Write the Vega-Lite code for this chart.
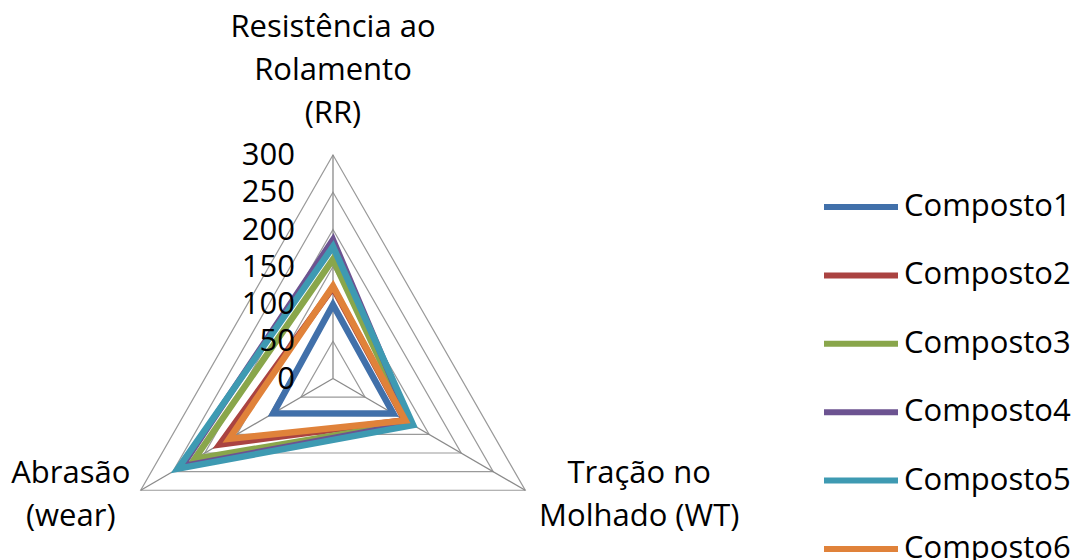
{
  "$schema": "https://vega.github.io/schema/vega-lite/v6.json",
  "width": 1082,
  "height": 560,
  "padding": 0,
  "autosize": {"type": "none"},
  "config": {"view": {"stroke": null}, "text": {"lineBreak": "\n"}},
  "datasets": {
    "series": [
      {"serie": "Composto1", "axis": "RR", "ord": 0, "v": 99},
      {"serie": "Composto1", "axis": "WT", "ord": 1, "v": 94},
      {"serie": "Composto1", "axis": "wear", "ord": 2, "v": 93},
      {"serie": "Composto2", "axis": "RR", "ord": 0, "v": 122},
      {"serie": "Composto2", "axis": "WT", "ord": 1, "v": 112},
      {"serie": "Composto2", "axis": "wear", "ord": 2, "v": 177},
      {"serie": "Composto3", "axis": "RR", "ord": 0, "v": 160},
      {"serie": "Composto3", "axis": "WT", "ord": 1, "v": 119},
      {"serie": "Composto3", "axis": "wear", "ord": 2, "v": 216},
      {"serie": "Composto4", "axis": "RR", "ord": 0, "v": 186},
      {"serie": "Composto4", "axis": "WT", "ord": 1, "v": 121},
      {"serie": "Composto4", "axis": "wear", "ord": 2, "v": 236},
      {"serie": "Composto5", "axis": "RR", "ord": 0, "v": 177},
      {"serie": "Composto5", "axis": "WT", "ord": 1, "v": 125},
      {"serie": "Composto5", "axis": "wear", "ord": 2, "v": 242},
      {"serie": "Composto6", "axis": "RR", "ord": 0, "v": 124},
      {"serie": "Composto6", "axis": "WT", "ord": 1, "v": 113},
      {"serie": "Composto6", "axis": "wear", "ord": 2, "v": 162}
    ],
    "grid": [
      {"v": 50, "axis": ["RR", "WT", "wear"], "ord": [0, 1, 2]},
      {"v": 100, "axis": ["RR", "WT", "wear"], "ord": [0, 1, 2]},
      {"v": 150, "axis": ["RR", "WT", "wear"], "ord": [0, 1, 2]},
      {"v": 200, "axis": ["RR", "WT", "wear"], "ord": [0, 1, 2]},
      {"v": 250, "axis": ["RR", "WT", "wear"], "ord": [0, 1, 2]},
      {"v": 300, "axis": ["RR", "WT", "wear"], "ord": [0, 1, 2]}
    ],
    "spokes": [
      {"axis": "RR", "v": 300},
      {"axis": "WT", "v": 300},
      {"axis": "wear", "v": 300}
    ],
    "ticks": [
      {"axis": "RR", "v": 0, "t": "0"},
      {"axis": "RR", "v": 50, "t": "50"},
      {"axis": "RR", "v": 100, "t": "100"},
      {"axis": "RR", "v": 150, "t": "150"},
      {"axis": "RR", "v": 200, "t": "200"},
      {"axis": "RR", "v": 250, "t": "250"},
      {"axis": "RR", "v": 300, "t": "300"}
    ],
    "titles": [
      {"axis": "RR", "v": 300, "label": "Resistência ao\nRolamento\n(RR)"},
      {"axis": "WT", "v": 300, "label": "Tração no\nMolhado (WT)"},
      {"axis": "wear", "v": 300, "label": "Abrasão\n(wear)"}
    ]
  },
  "layer": [
    {
      "data": {"name": "grid"},
      "transform": [
        {"flatten": ["axis", "ord"]},
        {"calculate": "datum.v * (datum.axis === 'RR' ? 0 : (datum.axis === 'WT' ? 0.866 : -0.866))", "as": "px"},
        {"calculate": "datum.v * (datum.axis === 'RR' ? 1 : -0.5)", "as": "py"}
      ],
      "mark": {"type": "line", "interpolate": "linear-closed", "stroke": "#9a9a9a", "strokeWidth": 1.2},
      "encoding": {
        "x": {"field": "px", "type": "quantitative", "scale": {"domain": [-450, 1012.2], "nice": false, "zero": false}, "axis": null},
        "y": {"field": "py", "type": "quantitative", "scale": {"domain": [-243.6, 508.05], "nice": false, "zero": false}, "axis": null},
        "detail": {"field": "v", "type": "nominal"},
        "order": {"field": "ord", "type": "quantitative"}
      }
    },
    {
      "data": {"name": "spokes"},
      "transform": [
        {"calculate": "datum.v * (datum.axis === 'RR' ? 0 : (datum.axis === 'WT' ? 0.866 : -0.866))", "as": "px"},
        {"calculate": "datum.v * (datum.axis === 'RR' ? 1 : -0.5)", "as": "py"}
      ],
      "mark": {"type": "rule", "stroke": "#8a8a8a", "strokeWidth": 1.3},
      "encoding": {
        "x": {"field": "px", "type": "quantitative", "scale": {"domain": [-450, 1012.2], "nice": false, "zero": false}, "axis": null},
        "y": {"field": "py", "type": "quantitative", "scale": {"domain": [-243.6, 508.05], "nice": false, "zero": false}, "axis": null},
        "x2": {"datum": 0},
        "y2": {"datum": 0}
      }
    },
    {
      "data": {"name": "series"},
      "transform": [
        {"calculate": "datum.v * (datum.axis === 'RR' ? 0 : (datum.axis === 'WT' ? 0.866 : -0.866))", "as": "px"},
        {"calculate": "datum.v * (datum.axis === 'RR' ? 1 : -0.5)", "as": "py"}
      ],
      "mark": {"type": "line", "interpolate": "linear-closed", "strokeWidth": 6.5, "strokeJoin": "miter"},
      "encoding": {
        "x": {"field": "px", "type": "quantitative", "scale": {"domain": [-450, 1012.2], "nice": false, "zero": false}, "axis": null},
        "y": {"field": "py", "type": "quantitative", "scale": {"domain": [-243.6, 508.05], "nice": false, "zero": false}, "axis": null},
        "order": {"field": "ord", "type": "quantitative"},
        "color": {
          "field": "serie",
          "type": "nominal",
          "scale": {
            "domain": ["Composto1", "Composto2", "Composto3", "Composto4", "Composto5", "Composto6"],
            "range": ["#4170AA", "#AA4341", "#89A64B", "#6C5391", "#3E9AB2", "#E0823A"]
          },
          "legend": {
            "title": null,
            "orient": "none",
            "legendX": 821,
            "legendY": 167,
            "symbolType": "stroke",
            "symbolSize": 5476,
            "symbolStrokeWidth": 6,
            "labelFont": "Open Sans",
            "labelFontSize": 31,
            "labelColor": "#000000",
            "labelOffset": 3,
            "labelLimit": 400,
            "rowPadding": 13.4
          }
        }
      }
    },
    {
      "data": {"name": "ticks"},
      "transform": [
        {"calculate": "datum.v * (datum.axis === 'RR' ? 0 : (datum.axis === 'WT' ? 0.866 : -0.866))", "as": "px"},
        {"calculate": "datum.v * (datum.axis === 'RR' ? 1 : -0.5)", "as": "py"}
      ],
      "mark": {"type": "text", "align": "right", "baseline": "middle", "dx": -38, "dy": 1, "font": "Open Sans", "fontSize": 31, "color": "#000000"},
      "encoding": {
        "x": {"field": "px", "type": "quantitative", "scale": {"domain": [-450, 1012.2], "nice": false, "zero": false}, "axis": null},
        "y": {"field": "py", "type": "quantitative", "scale": {"domain": [-243.6, 508.05], "nice": false, "zero": false}, "axis": null},
        "text": {"field": "t"}
      }
    },
    {
      "data": {"name": "titles"},
      "transform": [
        {"filter": "datum.axis === 'RR'"},
        {"calculate": "datum.v * (datum.axis === 'RR' ? 0 : (datum.axis === 'WT' ? 0.866 : -0.866))", "as": "px"},
        {"calculate": "datum.v * (datum.axis === 'RR' ? 1 : -0.5)", "as": "py"}
      ],
      "mark": {"type": "text", "align": "center", "baseline": "alphabetic", "dy": -118, "lineHeight": 43, "font": "Open Sans", "fontSize": 31, "color": "#000000"},
      "encoding": {
        "x": {"field": "px", "type": "quantitative", "scale": {"domain": [-450, 1012.2], "nice": false, "zero": false}, "axis": null},
        "y": {"field": "py", "type": "quantitative", "scale": {"domain": [-243.6, 508.05], "nice": false, "zero": false}, "axis": null},
        "text": {"field": "label"}
      }
    },
    {
      "data": {"name": "titles"},
      "transform": [
        {"filter": "datum.axis === 'WT'"},
        {"calculate": "datum.v * (datum.axis === 'RR' ? 0 : (datum.axis === 'WT' ? 0.866 : -0.866))", "as": "px"},
        {"calculate": "datum.v * (datum.axis === 'RR' ? 1 : -0.5)", "as": "py"}
      ],
      "mark": {"type": "text", "align": "center", "baseline": "alphabetic", "dx": 114, "dy": -7, "lineHeight": 43, "font": "Open Sans", "fontSize": 31, "color": "#000000"},
      "encoding": {
        "x": {"field": "px", "type": "quantitative", "scale": {"domain": [-450, 1012.2], "nice": false, "zero": false}, "axis": null},
        "y": {"field": "py", "type": "quantitative", "scale": {"domain": [-243.6, 508.05], "nice": false, "zero": false}, "axis": null},
        "text": {"field": "label"}
      }
    },
    {
      "data": {"name": "titles"},
      "transform": [
        {"filter": "datum.axis === 'wear'"},
        {"calculate": "datum.v * (datum.axis === 'RR' ? 0 : (datum.axis === 'WT' ? 0.866 : -0.866))", "as": "px"},
        {"calculate": "datum.v * (datum.axis === 'RR' ? 1 : -0.5)", "as": "py"}
      ],
      "mark": {"type": "text", "align": "center", "baseline": "alphabetic", "dx": -70, "dy": -7, "lineHeight": 43, "font": "Open Sans", "fontSize": 31, "color": "#000000"},
      "encoding": {
        "x": {"field": "px", "type": "quantitative", "scale": {"domain": [-450, 1012.2], "nice": false, "zero": false}, "axis": null},
        "y": {"field": "py", "type": "quantitative", "scale": {"domain": [-243.6, 508.05], "nice": false, "zero": false}, "axis": null},
        "text": {"field": "label"}
      }
    }
  ]
}
